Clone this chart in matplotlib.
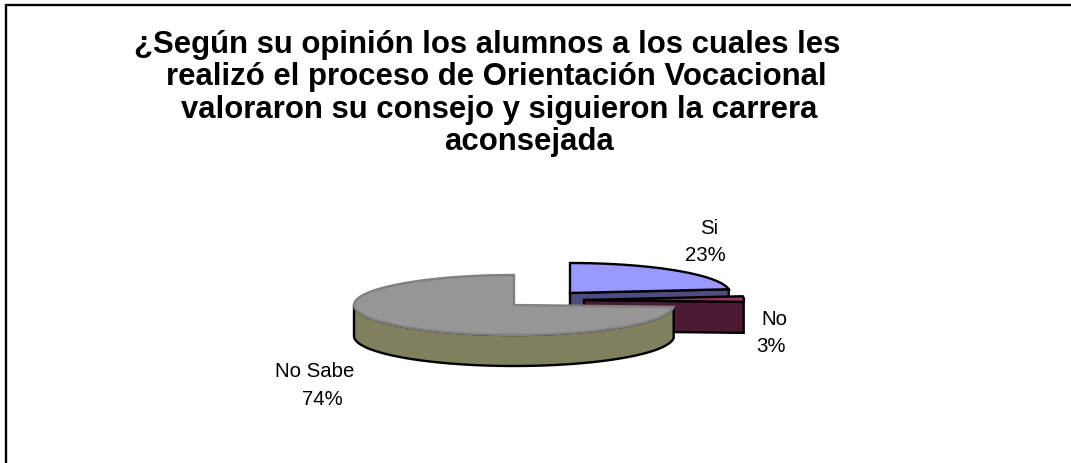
import numpy as np
import matplotlib
matplotlib.use("Agg")
import matplotlib.pyplot as plt
from matplotlib.patches import Polygon

plt.rcParams['font.family'] = ['Liberation Sans', 'DejaVu Sans']

title_lines = ["¿Según su opinión los alumnos a los cuales les",
               "realizó el proceso de Orientación Vocacional",
               "valoraron su consejo y siguieron la carrera",
               "aconsejada"]
categories = ["Si", "No", "No Sabe"]
values = [23, 3, 74]
top_colors = ["#9999ff", "#993366", "#969696"]
side_colors = ["#4d4d80", "#4d1a33", "#80805f"]
edge_colors = ["black", "black", "#808080"]

# apex of each slice in pixels (the two small ones are pulled out)
apex = [(570, 294), (584, 301), (514, 306)]
# x centre and baseline of the name line and the percent line
name_pos = [(709, 234), (774, 325), (315, 377)]
pct_pos = [(705, 261), (771, 352), (322, 405)]
title_x = [487, 496, 499, 529]
title_y = [53, 85.5, 118, 150]
rx, ry, depth = 160, 30, 31

fig = plt.figure(figsize=(10.71, 4.64), dpi=100)
ax = fig.add_axes([0, 0, 1, 1])
ax.set_xlim(0, 1071)
ax.set_ylim(464, 0)
ax.axis("off")

# frame
ax.plot([6, 6, 1071], [464, 5.5, 5.5], color="black", lw=1.7, solid_joinstyle="miter")


def arc(cx, cy, a0, a1):
    t = np.radians(np.linspace(a0, a1, 120))
    return np.column_stack([cx + rx * np.cos(t), cy - ry * np.sin(t)])


angle = 90.0
for i, v in enumerate(values):
    a0 = angle
    a1 = angle - v / sum(values) * 360
    angle = a1
    cx, cy = apex[i]
    rim = arc(cx, cy, a0, a1)

    # front faces, only what looks down at us
    if i < 2:
        p0 = np.array([[cx, cy], rim[-1], rim[-1] + [0, depth], [cx, cy + depth]])
    else:
        wall = arc(cx, cy, 180, a0 + 360)
        p0 = np.vstack([wall, (wall + [0, depth])[::-1]])
    ax.add_patch(Polygon(p0, fc=side_colors[i], ec="black", lw=1.7, zorder=2 + i * 2))

    top = np.vstack([[cx, cy], rim])
    ax.add_patch(Polygon(top, fc=top_colors[i], ec=edge_colors[i], lw=1.7, zorder=3 + i * 2))

    ax.text(name_pos[i][0], name_pos[i][1], categories[i], ha="center", va="baseline",
            fontsize=14.7, color="black", zorder=10)
    ax.text(pct_pos[i][0], pct_pos[i][1], f"{v}%", ha="center", va="baseline",
            fontsize=14.7, color="black", zorder=10)

for line, xx, yy in zip(title_lines, title_x, title_y):
    ax.text(xx, yy, line, ha="center", va="baseline", fontsize=22.4, fontweight="bold", color="black")

fig.savefig("out.png", dpi=100, facecolor="white")
